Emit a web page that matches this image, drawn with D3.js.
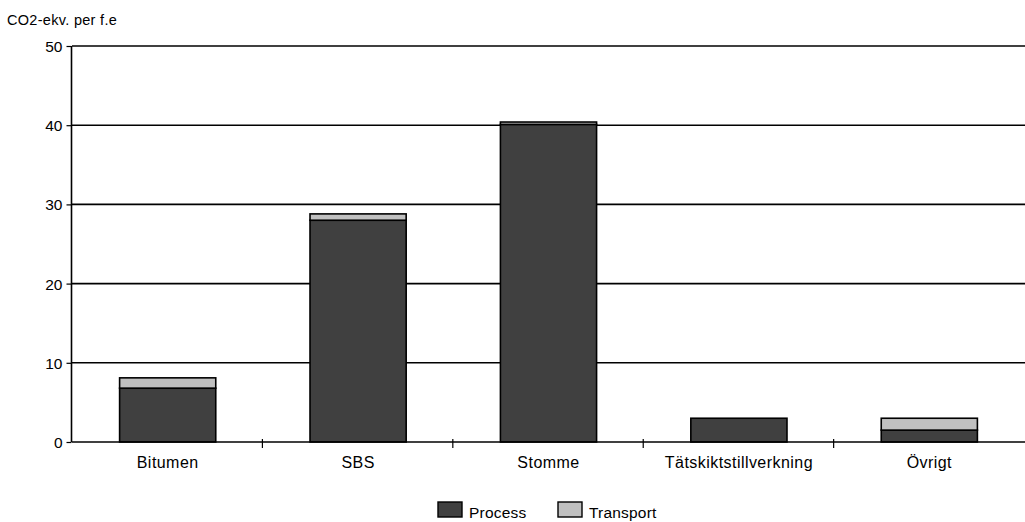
<!DOCTYPE html>
<html>
<head>
<meta charset="utf-8">
<script src="https://cdn.jsdelivr.net/npm/d3@7"></script>
<style>
  html, body { margin: 0; padding: 0; background: #fff; }
  svg { display: block; font-family: "Liberation Sans", Arial, sans-serif; }
</style>
</head>
<body>
<svg id="chart" width="1025" height="522"></svg>
<script>
// Emissions per functional unit, split by source
const categories = ["Bitumen", "SBS", "Stomme", "Tätskiktstillverkning", "Övrigt"];
const processValues = [6.8, 28.0, 40.1, 3.0, 1.5];
const transportValues = [1.3, 0.8, 0.3, 0.0, 1.5];
const yTicks = [0, 10, 20, 30, 40, 50];
const seriesNames = ["Process", "Transport"];
const seriesColors = ["#404040", "#c0c0c0"];

const svg = d3.select("#chart");
const left = 72, right = 1025;

const x = d3.scaleBand()
  .domain(categories)
  .range([left, right])
  .paddingInner(0.495)
  .paddingOuter(0.25);

const y = d3.scaleLinear()
  .domain([0, 50])
  .range([442, 46]);

// Horizontal gridlines
svg.append("g")
  .selectAll("line")
  .data(yTicks.filter(d => d > 0))
  .join("line")
  .attr("x1", left)
  .attr("x2", right)
  .attr("y1", d => y(d))
  .attr("y2", d => y(d))
  .attr("stroke", "#000")
  .attr("stroke-width", 1.6);

// Stacked bars
const rows = categories.map((c, i) => ({ cat: c, Process: processValues[i], Transport: transportValues[i] }));
const stack = d3.stack().keys(seriesNames)(rows);

svg.append("g")
  .selectAll("g")
  .data(stack)
  .join("g")
  .attr("fill", (d, i) => seriesColors[i])
  .selectAll("rect")
  .data(d => d.filter(s => s[1] - s[0] > 0))
  .join("rect")
  .attr("x", d => x(d.data.cat))
  .attr("width", x.bandwidth())
  .attr("y", d => y(d[1]))
  .attr("height", d => y(d[0]) - y(d[1]))
  .attr("stroke", "#000")
  .attr("stroke-width", 1.6);

// Y axis
const yAxis = d3.axisLeft(y)
  .tickValues(yTicks)
  .tickSize(5)
  .tickPadding(4)
  .tickFormat(d3.format("d"));

const gy = svg.append("g")
  .attr("transform", `translate(${left - 0.5},0)`)
  .call(yAxis);
gy.select(".domain").attr("stroke", "#000").attr("stroke-width", 1.6).attr("d", `M0,${y(50)}V${y(0)}`);
gy.selectAll(".tick line").attr("stroke", "#000").attr("stroke-width", 1.2);
gy.selectAll(".tick text")
  .attr("fill", "#000")
  .attr("dy", "0.36em")
  .style("font-size", "15.5px")
  .style("font-family", "Liberation Sans, Arial, sans-serif");

// X axis line
svg.append("line")
  .attr("x1", left)
  .attr("x2", right)
  .attr("y1", y(0))
  .attr("y2", y(0))
  .attr("stroke", "#000")
  .attr("stroke-width", 1.6);

// Category boundary ticks
const step = x.step();
const boundaries = d3.range(1, categories.length).map(i => left + i * step);
svg.append("g")
  .selectAll("line")
  .data(boundaries)
  .join("line")
  .attr("x1", d => d)
  .attr("x2", d => d)
  .attr("y1", y(0) - 3)
  .attr("y2", y(0) + 6)
  .attr("stroke", "#000")
  .attr("stroke-width", 1.2);

// Category labels
svg.append("g")
  .selectAll("text")
  .data(categories)
  .join("text")
  .attr("x", d => x(d) + x.bandwidth() / 2)
  .attr("y", 468)
  .attr("text-anchor", "middle")
  .style("font-size", "16px")
  .style("letter-spacing", "0.45px")
  .text(d => d);

// Axis title
svg.append("text")
  .attr("x", 7)
  .attr("y", 25)
  .style("font-size", "14.5px")
  .style("letter-spacing", "0.3px")
  .text("CO2-ekv. per f.e");

// Legend
const legendItems = [
  { name: seriesNames[0], color: seriesColors[0], x: 438 },
  { name: seriesNames[1], color: seriesColors[1], x: 558 }
];
const lg = svg.append("g")
  .selectAll("g")
  .data(legendItems)
  .join("g")
  .attr("transform", d => `translate(${d.x},502)`);
lg.append("rect")
  .attr("width", 24)
  .attr("height", 15)
  .attr("fill", d => d.color)
  .attr("stroke", "#000")
  .attr("stroke-width", 1.4);
lg.append("text")
  .attr("x", 31)
  .attr("y", 16)
  .style("font-size", "15.5px")
  .style("letter-spacing", "0.2px")
  .text(d => d.name);
</script>
</body>
</html>
